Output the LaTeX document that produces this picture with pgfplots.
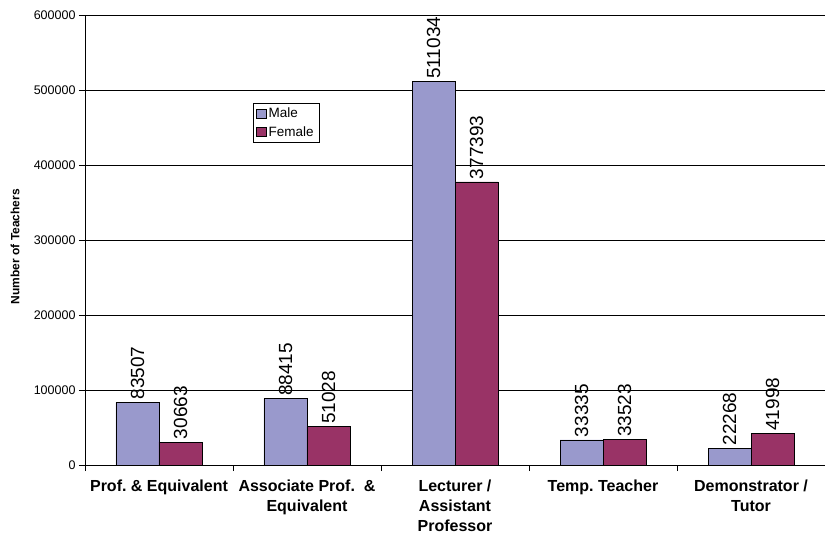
\documentclass[border=0pt]{standalone}
\usepackage{pgfplots}
\pgfplotsset{compat=1.18}
\usepackage{fontspec}
\setmainfont{Liberation Sans}
\frenchspacing
\definecolor{male}{HTML}{9999CC}
\definecolor{female}{HTML}{993366}
\begin{document}
\begin{tikzpicture}
\useasboundingbox (-85pt,-73pt) rectangle (740pt,465pt);
\begin{axis}[
  at={(0,0)}, anchor=south west,
  width=740pt, height=450pt, scale only axis,
  ybar=0pt, bar width=43pt,
  xmin=-0.5, xmax=4.5, ymin=0, ymax=600000,
  axis x line*=bottom, axis y line*=left,
  axis line style={black, line width=0.8pt},
  ytick={0,100000,...,600000},
  scaled y ticks=false,
  yticklabel style={/pgf/number format/fixed, /pgf/number format/1000 sep={}, font=\fontsize{12.5}{15}\selectfont},
  /pgf/number format/assume math mode=true,
  ymajorgrids, grid style={black, line width=0.8pt},
  tick align=outside, major tick length=6pt, minor tick length=6pt,
  xtick={0,1,2,3,4},
  xticklabels={Prof. \& Equivalent, Associate Prof.\ \ \&\\Equivalent, Lecturer /\\Assistant\\Professor, Temp. Teacher, Demonstrator /\\Tutor},
  xticklabel style={align=center, font=\bfseries\fontsize{16}{20}\selectfont, yshift=-5pt},
  every major x tick/.append style={draw=none},
  minor xtick={-0.5,0.5,1.5,2.5,3.5,4.5},
  every minor x tick/.append style={black, line width=0.8pt},
  ytick style={black, line width=0.8pt},
  ylabel={Number of Teachers},
  every axis y label/.style={at={(axis description cs:-0.0946,0.485)}, rotate=90, anchor=center, font=\bfseries\fontsize{12}{14}\selectfont},
  legend style={at={(0.2266,0.805)}, anchor=north west, draw=black, line width=0.6pt, fill=white, font=\fontsize{13.5}{15}\selectfont, inner xsep=3.5pt, inner ysep=3pt, row sep=3pt, legend cell align=left},
  legend image code/.code={\draw[#1, line width=0.6pt] (0pt,-4.5pt) rectangle (9.5pt,4.5pt);},
  point meta=explicit symbolic,
  nodes near coords={\pgfplotspointmeta},
  nodes near coords style={rotate=90, anchor=west, inner sep=2.5pt, font=\fontsize{19}{19}\selectfont, black},
]
\addplot[fill=male, draw=black, line width=0.8pt]
  coordinates {(0,83507) [83507] (1,88415) [88415] (2,511034) [511034] (3,33335) [33335] (4,22268) [22268]};
\addplot[fill=female, draw=black, line width=0.8pt]
  coordinates {(0,30663) [30663] (1,51028) [51028] (2,377393) [377393] (3,33523) [33523] (4,41998) [41998]};
\legend{Male, Female}
\end{axis}
\end{tikzpicture}
\end{document}
